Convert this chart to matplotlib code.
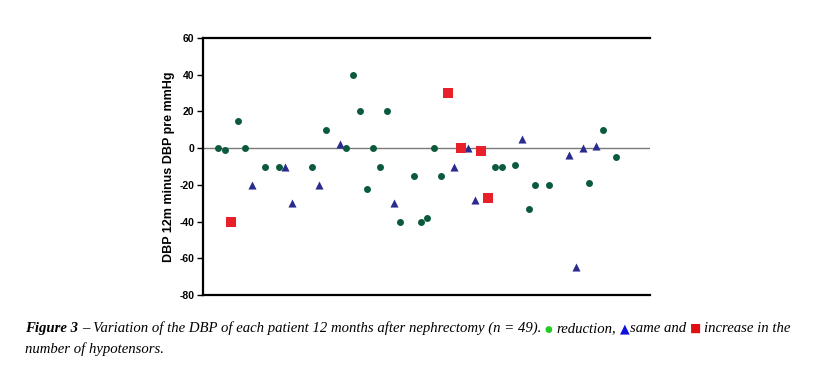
import matplotlib
matplotlib.use("Agg")
import matplotlib.pyplot as plt

plt.rcParams["axes.unicode_minus"] = False

# patient index and DBP change (12m minus pre), split by hypotensor group
reduction_idx = [1, 2, 4, 5, 8, 10, 15, 17, 20, 21, 22, 23, 24, 25, 26, 28, 30, 31,
                 32, 33, 34, 42, 43, 45, 47, 48, 50, 56, 58, 60]
reduction_val = [0, -1, 15, 0, -10, -10, -10, 10, 0, 40, 20, -22, 0, -10, 20, -40, -15, -40,
                 -38, 0, -15, -10, -10, -9, -33, -20, -20, -19, 10, -5]
same_idx = [6, 11, 12, 16, 19, 27, 36, 38, 39, 46, 53, 54, 55, 57]
same_val = [-20, -10, -30, -20, 2, -30, -10, 0, -28, 5, -4, -65, 0, 1]
increase_idx = [3, 35, 37, 40, 41]
increase_val = [-40, 30, 0, -1.5, -27]

yticks = [-80, -60, -40, -20, 0, 20, 40, 60]

fig = plt.figure(figsize=(8.15, 3.7), dpi=100)
ax = fig.add_axes([0.249, 0.203, 0.549, 0.694])

ax.axhline(0, color="#7a7a7a", lw=1, zorder=1)
ax.scatter(reduction_idx, reduction_val, marker="o", s=25, color="#0b5a3c", zorder=3, linewidths=0)
ax.scatter(same_idx, same_val, marker="^", s=34, color="#2b2b8f", zorder=3, linewidths=0)
ax.scatter(increase_idx, increase_val, marker="s", s=44, color="#e8202a", zorder=3, linewidths=0)

ax.set_xlim(-1.23, 65.05)
ax.set_ylim(-80, 60)
ax.set_yticks(yticks)
ax.set_xticks([])
for s in ["top", "bottom", "left"]:
    ax.spines[s].set_linewidth(1.6)
    ax.spines[s].set_color("black")
ax.spines["right"].set_visible(False)
ax.tick_params(axis="y", length=4, width=1, direction="out", pad=2)
for lab in ax.get_yticklabels():
    lab.set_fontfamily("Liberation Sans")
    lab.set_fontweight("bold")
    lab.set_fontsize(7.5)
ax.set_ylabel("DBP 12m minus DBP pre mmHg", fontfamily="Liberation Sans",
              fontweight="bold", fontsize=9, labelpad=3)

# caption built from pieces so the coloured symbols sit inline
serif = "Liberation Serif"
pieces = [
    ("Figure 3", dict(family=serif, style="italic", weight="bold", color="black"), 0),
    ("– Variation of the DBP of each patient 12 months after nephrectomy (n = 49).",
     dict(family=serif, style="italic", color="black"), 1),
    ("●", dict(family="DejaVu Sans", color="#22cc22", scale=0.6), 1),
    ("reduction,", dict(family=serif, style="italic", color="black"), 1),
    ("▲", dict(family="DejaVu Sans", color="#1010dd", scale=0.85), 1),
    ("same and", dict(family=serif, style="italic", color="black"), 0),
    ("■", dict(family="DejaVu Sans", color="#e01010", scale=0.8), 1),
    ("increase in the", dict(family=serif, style="italic", color="black"), 1),
]

renderer = fig.canvas.get_renderer()
base = 10.0


def width_of(txt, props, size):
    p = dict(props)
    p.pop("scale", None)
    t = fig.text(0, 0, txt, fontsize=size, **p)
    w = t.get_window_extent(renderer).width
    t.remove()
    return w


def space_w(size):
    return width_of("x x", dict(family=serif, style="italic"), size) - \
        width_of("xx", dict(family=serif, style="italic"), size)


total = 0
for i, (txt, props, gap) in enumerate(pieces):
    sz = base * props.get("scale", 1.0)
    total += width_of(txt, props, sz)
    if i > 0:
        total += gap * space_w(base)
size = base * 770.0 / total

x = 25.0
y1 = 1 - 332 / 370
for i, (txt, props, gap) in enumerate(pieces):
    if i > 0:
        x += gap * space_w(size)
    p = dict(props)
    sc = p.pop("scale", 1.0)
    fig.text(x / 815, y1, txt, fontsize=size * sc, va="baseline", ha="left", **p)
    x += width_of(txt, props, size * sc)

fig.text(25 / 815, 1 - 353 / 370, "number of hypotensors.", fontsize=size,
         family=serif, style="italic", va="baseline", ha="left")

fig.savefig("out.png", dpi=100)
